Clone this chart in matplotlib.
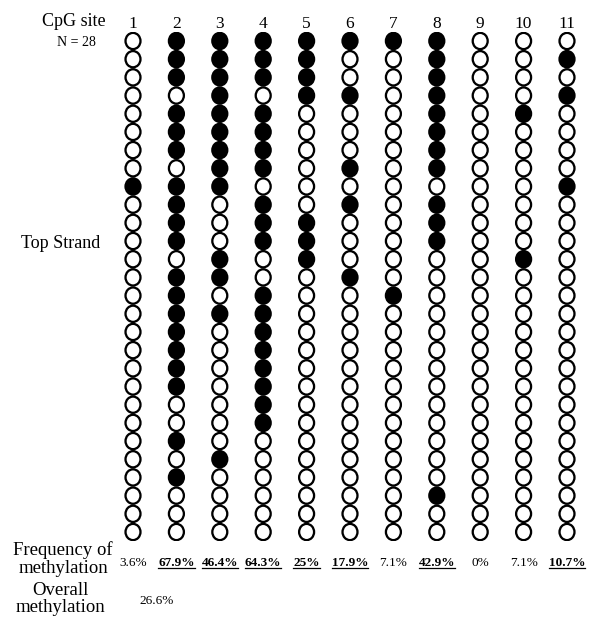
import numpy as np
import matplotlib
matplotlib.use("Agg")
import matplotlib.pyplot as plt
from matplotlib.lines import Line2D
from matplotlib.path import Path
from matplotlib.transforms import Affine2D

# CpG sites and their methylated rows (0 = top clone, 27 = bottom clone)
sites = [1, 2, 3, 4, 5, 6, 7, 8, 9, 10, 11]
n_clones = 28
methylated = {
    1: [8],
    2: [0, 1, 2, 4, 5, 6, 8, 9, 10, 11, 13, 14, 15, 16, 17, 18, 19, 22, 24],
    3: [0, 1, 2, 3, 4, 5, 6, 7, 8, 12, 13, 15, 23],
    4: [0, 1, 2, 4, 5, 6, 7, 9, 10, 11, 14, 15, 16, 17, 18, 19, 20, 21],
    5: [0, 1, 2, 3, 10, 11, 12],
    6: [0, 3, 7, 9, 13],
    7: [0, 14],
    8: [0, 1, 2, 3, 4, 5, 6, 7, 9, 10, 11, 25],
    9: [],
    10: [4, 12],
    11: [1, 3, 8],
}
freq_labels = ["3.6%", "67.9%", "46.4%", "64.3%", "25%", "17.9%",
               "7.1%", "42.9%", "0%", "7.1%", "10.7%"]
freq_marked = [False, True, True, True, True, True,
               False, True, False, False, True]
overall_label = "26.6%"

W, H = 589, 618
fig = plt.figure(figsize=(W / 100, H / 100), dpi=100)
plt.rcParams['font.family'] = ['Liberation Serif', 'DejaVu Serif']


def px(x, y):
    return x / W, 1 - y / H


# axes placed so that site 1 sits at x=133 px, site 11 at 567 px,
# row 0 at y=41 px and row 27 at y=532 px
col_w = (567 - 133) / 10
row_h = (532 - 41) / 27
left = 133 - col_w / 2
top = 41 - row_h / 2
ax = fig.add_axes([left / W, 1 - (top + row_h * 28) / H,
                   col_w * 11 / W, row_h * 28 / H])
ax.set_xlim(0.5, 11.5)
ax.set_ylim(27.5, -0.5)
ax.axis("off")

# slightly tall circles, so the columns look like chains
oval = Path.unit_circle().transformed(Affine2D().scale(0.92, 1.0))

for s in sites:
    rows = np.arange(n_clones)
    filled = np.isin(rows, methylated[s])
    ax.scatter(np.full(n_clones, s), rows, s=137, marker=oval,
               c=np.where(filled, "black", "white"),
               edgecolors="black", linewidths=1.65, zorder=3)
    ax.text(s, -0.95, str(s), ha="center", va="center", fontsize=12.5,
            clip_on=False)

fig.text(*px(74, 21), "CpG site", ha="center", va="center", fontsize=13)
fig.text(*px(76, 43), "N = 28", ha="center", va="center", fontsize=10)
fig.text(*px(61, 244), "Top Strand", ha="center", va="center", fontsize=13)
fig.text(*px(63, 559), "Frequency of\nmethylation", ha="center",
         va="center", fontsize=13.5, linespacing=1.1)
fig.text(*px(60, 599), "Overall\nmethylation", ha="center",
         va="center", fontsize=13.5, linespacing=1.0)

freq_texts = []
for s, lab, mark in zip(sites, freq_labels, freq_marked):
    t = ax.text(s, (563 - 41) / row_h, lab, ha="center", va="center",
                fontsize=9.5, fontweight="bold" if mark else "normal",
                clip_on=False)
    freq_texts.append((t, mark))

ax.text(1 + (157 - 133) / col_w, (601 - 41) / row_h, overall_label,
        ha="center", va="center", fontsize=9.5, clip_on=False)

# underline the marked frequencies
fig.canvas.draw()
renderer = fig.canvas.get_renderer()
for t, mark in freq_texts:
    if not mark:
        continue
    bb = t.get_window_extent(renderer)
    y = bb.y0 + 1.5
    fig.add_artist(Line2D([bb.x0 / W, bb.x1 / W], [y / H, y / H],
                          color="black", linewidth=0.9))

fig.savefig("out.png", dpi=100, facecolor="white")
